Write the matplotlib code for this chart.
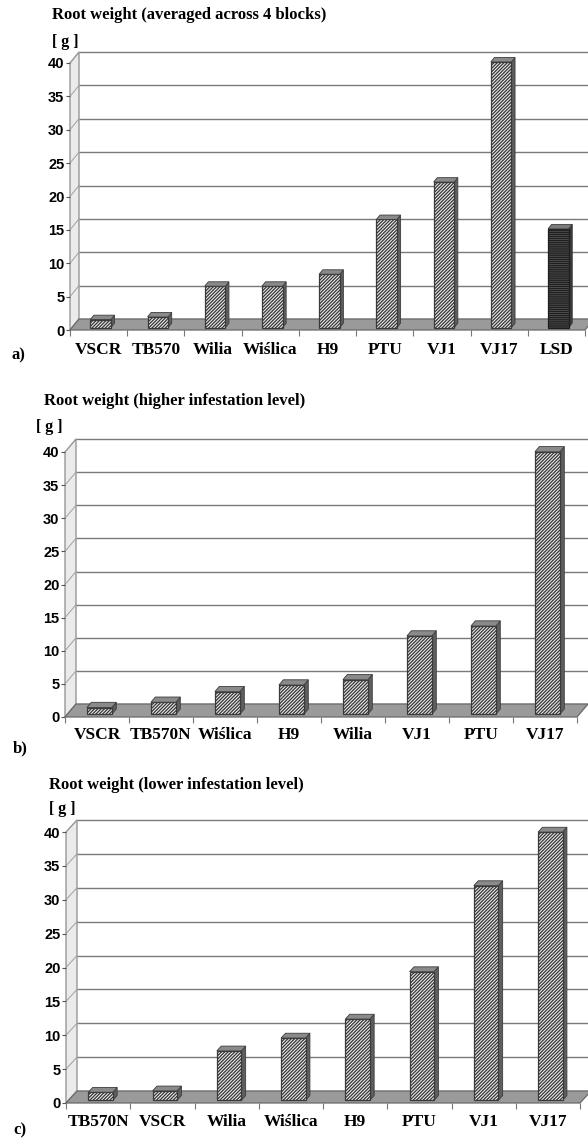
import matplotlib
matplotlib.use("Agg")
import matplotlib.pyplot as plt
from matplotlib.patches import Polygon
import numpy as np

plt.rcParams['hatch.linewidth'] = 0.95

# ---------------- data ----------------
cats_a = ["VSCR", "TB570", "Wilia", "Wiślica", "H9", "PTU", "VJ1", "VJ17", "LSD"]
vals_a = [1.2, 1.6, 6.2, 6.2, 8.0, 16.2, 21.8, 39.8, 14.8]

cats_b = ["VSCR", "TB570N", "Wiślica", "H9", "Wilia", "VJ1", "PTU", "VJ17"]
vals_b = [1.0, 1.8, 3.4, 4.4, 5.2, 11.8, 13.3, 39.6]

cats_c = ["TB570N", "VSCR", "Wilia", "Wiślica", "H9", "PTU", "VJ1", "VJ17"]
vals_c = [1.2, 1.4, 7.3, 9.2, 12.0, 19.0, 31.7, 39.6]

yticks = [0, 5, 10, 15, 20, 25, 30, 35, 40]
ytick_labels = ["0", "5", "10", "15", "20", "25", "30", "35", "40"]

title_a = "Root weight (averaged across 4 blocks)"
title_b = "Root weight (higher infestation level)"
title_c = "Root weight (lower infestation level)"
unit_label = "[ g ]"

W, H = 588, 1140
fig = plt.figure(figsize=(W / 100, H / 100), dpi=100)
fig.patch.set_facecolor("white")

SERIF = "Liberation Serif"
SANS = "Liberation Sans"


def panel(cats, vals, title, tag, geom, special_last=False):
    (x0, x1, y0, y40, dxp, dyp, title_xy, g_xy, tag_xy, wfrac, lab_pad) = geom
    N = len(cats)
    ax = fig.add_axes([x0 / W, 1 - y0 / H, (x1 - x0) / W, (y0 - y40) / H])
    ax.set_xlim(0, N)
    ax.set_ylim(0, 40)
    ax.patch.set_alpha(0)
    for s in ax.spines.values():
        s.set_visible(False)
    dx = dxp / ((x1 - x0) / N)
    dy = dyp / ((y0 - y40) / 40.0)
    ymax = 40

    # back wall
    ax.add_patch(Polygon([(dx, dy), (N + dx, dy), (N + dx, ymax + dy), (dx, ymax + dy)],
                         closed=True, fc="white", ec="none", clip_on=False, zorder=0))
    # left wall
    ax.add_patch(Polygon([(0, 0), (dx, dy), (dx, ymax + dy), (0, ymax)],
                         closed=True, fc="#ebebeb", ec="#8c8c8c", lw=0.9,
                         clip_on=False, zorder=1))
    # gridlines
    for v in yticks:
        ax.plot([dx, N + dx], [v + dy, v + dy], color="#7a7a7a", lw=1.0,
                clip_on=False, zorder=1, solid_capstyle="butt")
        ax.plot([0, dx], [v, v + dy], color="#a0a0a0", lw=0.7,
                clip_on=False, zorder=1)
    # floor
    ax.add_patch(Polygon([(0, 0), (N, 0), (N + dx, dy), (dx, dy)],
                         closed=True, fc="#9a9a9a", ec="#6a6a6a", lw=0.9,
                         clip_on=False, zorder=2))

    # bars
    t1 = 0.22
    d = 0.40
    centers = np.arange(N) + 0.5
    bars = ax.bar(centers + t1 * dx, vals, width=wfrac, bottom=t1 * dy,
                  color="#f2f2f2", edgecolor="#3a3a3a", hatch="//////////",
                  lw=0.9, zorder=4, clip_on=False)
    ddx, ddy = d * dx, d * dy
    for i, b in enumerate(bars):
        l = b.get_x()
        r = l + b.get_width()
        base = b.get_y()
        top = base + b.get_height()
        side_c, top_c = "#5e5e5e", "#8a8a8a"
        if special_last and i == N - 1:
            b.set_facecolor("#5a5a5a")
            b.set_edgecolor("#1e1e1e")
            b.set_hatch("--------")
            side_c, top_c = "#3a3a3a", "#7a7a7a"
        ax.add_patch(Polygon([(r, base), (r + ddx, base + ddy), (r + ddx, top + ddy), (r, top)],
                             closed=True, fc=side_c, ec="#3c3c3c", lw=0.6,
                             clip_on=False, zorder=3))
        ax.add_patch(Polygon([(l, top), (l + ddx, top + ddy), (r + ddx, top + ddy), (r, top)],
                             closed=True, fc=top_c, ec="#3c3c3c", lw=0.6,
                             clip_on=False, zorder=5))

    # y axis ticks
    ax.set_yticks(yticks)
    ax.set_yticklabels(ytick_labels, fontfamily=SANS, fontweight="bold", fontsize=10.5)
    ax.tick_params(axis="y", length=3, pad=1, color="#555555", width=0.8)

    # x axis ticks
    ax.set_xticks(np.arange(N + 1))
    ax.set_xticklabels([])
    ax.tick_params(axis="x", which="major", length=4, direction="out",
                   color="#777777", width=0.8)
    ax.set_xticks(centers, minor=True)
    ax.set_xticklabels(cats, minor=True, fontfamily=SERIF, fontweight="bold",
                       fontsize=12.5)
    ax.tick_params(axis="x", which="minor", length=0, pad=lab_pad)

    fig.text(title_xy[0] / W, 1 - title_xy[1] / H, title, fontfamily=SERIF,
             fontweight="bold", fontsize=12, ha="left", va="center")
    fig.text(g_xy[0] / W, 1 - g_xy[1] / H, unit_label, fontfamily=SERIF,
             fontweight="bold", fontsize=11.5, ha="left", va="center")
    fig.text(tag_xy[0] / W, 1 - tag_xy[1] / H, tag, fontfamily=SERIF,
             fontweight="bold", fontsize=12, ha="left", va="center")
    return ax


geom_a = (70, 585, 330, 63, 9, 11, (52, 15), (52, 42), (12, 355), 0.36, 9.0)
geom_b = (65, 577, 717, 452, 11, 13, (44, 401), (36, 427), (13, 748), 0.39, 7.5)
geom_c = (66, 580, 1103, 832, 11, 12, (49, 785), (49, 809), (13, 1130), 0.38, 8.0)

panel(cats_a, vals_a, title_a, "a)", geom_a, special_last=True)
panel(cats_b, vals_b, title_b, "b)", geom_b)
panel(cats_c, vals_c, title_c, "c)", geom_c)

fig.savefig("out.png", dpi=100, facecolor="white")
